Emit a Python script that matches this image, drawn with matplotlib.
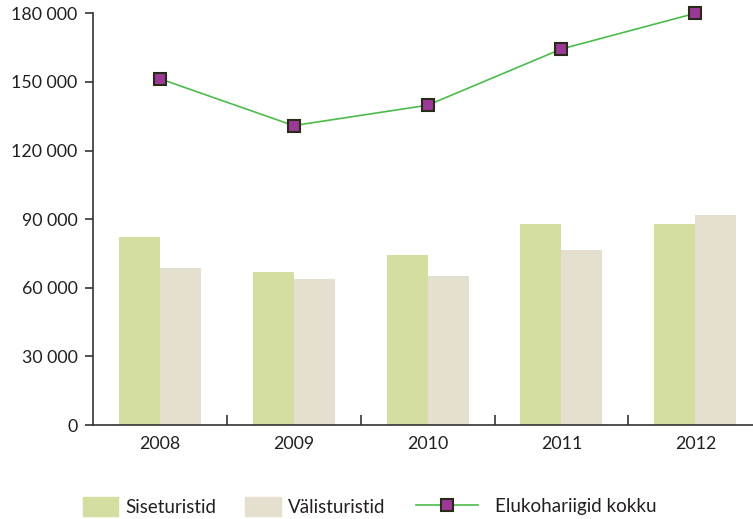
import numpy as np
import matplotlib
matplotlib.use('Agg')
import matplotlib.pyplot as plt
from matplotlib.patches import Patch
from matplotlib.lines import Line2D

years = ['2008', '2009', '2010', '2011', '2012']
siseturistid = [82200, 66900, 74300, 87900, 87900]
valisturistid = [68600, 63800, 65100, 76500, 91800]
kokku = [151400, 130900, 139800, 164400, 180000]
y_ticks = [0, 30000, 60000, 90000, 120000, 150000, 180000]

green_bar = '#d3dea0'
beige_bar = '#e4dfce'
line_col = '#4cbb4c'
marker_col = '#9b3a96'
txt = '#231f20'

plt.rcParams['font.family'] = ['Lato', 'DejaVu Sans']
plt.rcParams['font.size'] = 12.8
plt.rcParams['text.color'] = txt

fig = plt.figure(figsize=(7.53, 5.19), dpi=100)
ax = fig.add_axes([0.1231, 0.1811, 0.8769, 0.7933])

x = np.arange(len(years))
w = 0.306
ax.bar(x - w / 2, siseturistid, w, color=green_bar, zorder=2)
ax.bar(x + w / 2, valisturistid, w, color=beige_bar, zorder=2)
ax.plot(x, kokku, color=line_col, lw=1.2, marker='s', markersize=8,
        markerfacecolor=marker_col, markeredgecolor='#2a2a1a', markeredgewidth=1.5,
        clip_on=False, zorder=3)

ax.set_xlim(-0.5, 4.43)
ax.set_ylim(0, 180000)
ax.set_yticks(y_ticks)
ax.set_yticklabels([f'{v:,}'.replace(',', ' ') for v in y_ticks])
ax.set_xticks(x)
ax.set_xticklabels(years)
ax.set_xticks(x[:-1] + 0.5, minor=True)

for s in ['top', 'right']:
    ax.spines[s].set_visible(False)
for s in ['left', 'bottom']:
    ax.spines[s].set_color('#333333')
    ax.spines[s].set_linewidth(1.2)

ax.tick_params(axis='y', length=6, width=1.2, color='#333333', pad=5, labelcolor=txt)
ax.tick_params(axis='x', which='major', length=0, pad=8, labelcolor=txt)
ax.tick_params(axis='x', which='minor', direction='in', length=7, width=1.2, color='#333333')

h1 = [Patch(color=green_bar), Patch(color=beige_bar)]
leg1 = fig.legend(h1, ['Siseturistid', 'Välisturistid'], loc='center left',
                  bbox_to_anchor=(0.110, 0.0241), ncol=2, frameon=False, fontsize=13.5,
                  borderpad=0, borderaxespad=0, handlelength=1.87, handleheight=1.23,
                  handletextpad=0.4, columnspacing=1.55)
h2 = [Line2D([], [], color=line_col, lw=1.2, marker='s', markersize=8,
             markerfacecolor=marker_col, markeredgecolor='#2a2a1a', markeredgewidth=1.5)]
leg2 = fig.legend(h2, ['Elukohariigid kokku'], loc='center left',
                  bbox_to_anchor=(0.552, 0.0241), frameon=False, fontsize=13.5,
                  borderpad=0, borderaxespad=0, handlelength=3.35, handletextpad=0.9)

fig.savefig('out.png', dpi=100)
plt.close()
